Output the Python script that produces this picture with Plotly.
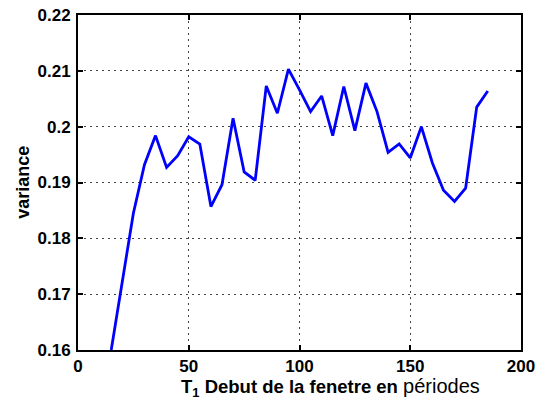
import plotly.graph_objects as go

# debut de fenetre (periodes) et variance
t1 = [15, 20, 25, 30, 35, 40, 45, 50, 55, 60, 65, 70, 75, 80, 85, 90, 95, 100,
      105, 110, 115, 120, 125, 130, 135, 140, 145, 150, 155, 160, 165, 170,
      175, 180, 185]
variance = [0.160, 0.1722, 0.1845, 0.1932, 0.1984, 0.1927, 0.1948, 0.1982,
            0.1969, 0.1857, 0.1896, 0.2015, 0.1919, 0.1904, 0.2073, 0.2024,
            0.2103, 0.2066, 0.2027, 0.2055, 0.1984, 0.2072, 0.1993, 0.2078,
            0.2027, 0.1954, 0.1969, 0.1944, 0.2000, 0.1935, 0.1886, 0.1866,
            0.1890, 0.2035, 0.2064]

x_ticks = [0, 50, 100, 150, 200]
y_ticks = [0.16, 0.17, 0.18, 0.19, 0.2, 0.21, 0.22]
y_labels = ["0.16", "0.17", "0.18", "0.19", "0.2", "0.21", "0.22"]

fig = go.Figure()
fig.add_trace(go.Scatter(x=t1, y=variance, mode="lines",
                         line=dict(color="#0000ff", width=2.8)))

axis_style = dict(
    showline=True, linecolor="black", linewidth=2, mirror="ticks",
    ticks="inside", ticklen=5, tickwidth=1.5, tickcolor="black",
    showgrid=True, gridcolor="#444444", gridwidth=1, griddash="2px,4px",
    zeroline=False, automargin=False,
    tickfont=dict(family="Liberation Sans", size=17, color="black", weight="bold"),
)

fig.update_xaxes(range=[0, 200], tickvals=x_ticks, **axis_style)
fig.update_yaxes(range=[0.16, 0.22], tickvals=y_ticks, ticktext=y_labels,
                 ticklabelstandoff=2, **axis_style)

fig.add_annotation(
    text="<b>T<sub>1</sub> Debut de la fenetre en</b> "
         "<span style='font-size:20px'>périodes</span>",
    xref="paper", yref="paper", x=0.571, y=-0.07, xanchor="center", yanchor="top",
    showarrow=False,
    font=dict(family="Liberation Sans", size=18.5, color="black"),
)
fig.add_annotation(
    text="<b>variance</b>",
    xref="paper", yref="paper", x=-0.126, y=0.5, xanchor="center", yanchor="middle",
    textangle=-90, showarrow=False,
    font=dict(family="Liberation Sans", size=18, color="black"),
)

fig.update_layout(
    width=537, height=401,
    margin=dict(l=78, r=16, t=15, b=51),
    plot_bgcolor="white", paper_bgcolor="white",
    showlegend=False,
)

# pas de marge autour de la page
fig.write_html("out.html", config={"displayModeBar": False},
               post_script="document.body.style.margin='0';")
